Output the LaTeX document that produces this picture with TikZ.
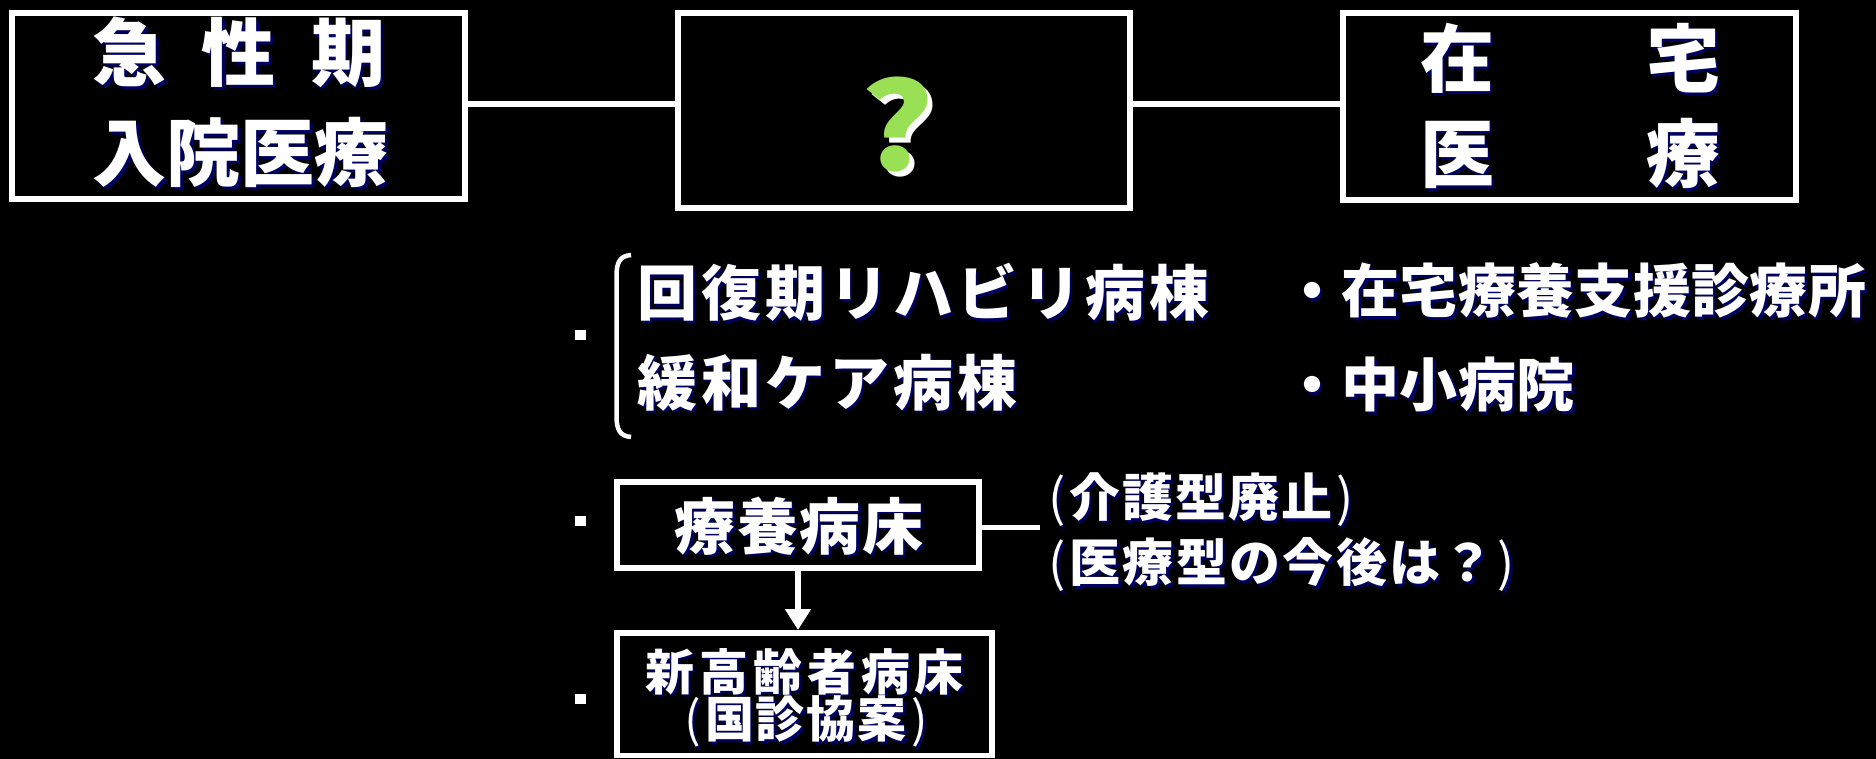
\documentclass[tikz,border=0pt]{standalone}
\usepackage{fontspec}
\setmainfont{Noto Sans CJK JP}
\usetikzlibrary{arrows.meta}
\definecolor{shadowc}{RGB}{0,0,96}
\definecolor{qgreen}{RGB}{153,224,85}
\makeatletter
\newcommand\pitched[2]{\def\pitchw{#1}\@tfor\pch:=#2\do{\makebox[\pitchw][c]{\pch}}}
\makeatother
\newcommand\lpar{{\mdseries(}\kern3pt}
\newcommand\rpar{\kern3pt{\mdseries)}}
\newcommand\sh[1]{\rlap{\kern2.5pt\raisebox{-2.5pt}{\color{shadowc}#1}}#1}
\tikzset{
  box/.style={draw=white, line width=5.5pt, inner sep=0pt},
  link/.style={draw=white, line width=6pt},
  txt/.style={inner sep=0pt, text=white, font=\bfseries},
  bulletsq/.style={fill=white, minimum width=11pt, minimum height=10pt, inner sep=0pt},
}
\begin{document}
\begin{tikzpicture}[x=1pt, y=-1pt]
\fill[black] (0,0) rectangle (1876,759);
\useasboundingbox (0,0) rectangle (1876,759);
\begin{scope}
\clip (0,0) rectangle (1876,759);
% top boxes
\node[box, minimum width=453pt, minimum height=186pt] (acute) at (238.5,106) {};
\node[box, minimum width=452pt, minimum height=195pt] (mid) at (904,110.5) {};
\node[box, minimum width=453pt, minimum height=187pt] (home) at (1569.5,106.5) {};
\coordinate (lineY) at (0,104);
\draw[link] (acute.east |- lineY) -- (mid.west |- lineY);
\draw[link] (mid.east |- lineY) -- (home.west |- lineY);
\node[txt, align=center, font=\bfseries\fontsize{74}{100}\selectfont] (acuteT) at (239,103.5) {\sh{\makebox[293pt][s]{急\hfill 性\hfill 期}}\\\sh{\makebox[293pt][s]{入\hfill 院\hfill 医\hfill 療}}};
\node[txt, align=center, font=\bfseries\fontsize{74}{95}\selectfont] (homeT) at (1570,107.5) {\sh{\makebox[300pt][s]{在\hfill 宅}}\\\sh{\makebox[300pt][s]{医\hfill 療}}};
\node[txt, font=\bfseries\fontsize{120}{120}\selectfont] (q) at (897,127) {\rlap{\hspace{5pt}\raisebox{-5pt}{\color{white}\scalebox{1.15}[1]{?}}}\color{qgreen}\scalebox{1.15}[1]{?}};
% bracket and bullets
\draw[white, line width=4.5pt] (631,255) .. controls (620,256) and (616.5,262) .. (616.5,276) -- (616.5,416) .. controls (616.5,430) and (620,436) .. (631,437);
\node[bulletsq] (b1) at (580,335) {};
\node[bulletsq] (b2) at (580,521) {};
\node[bulletsq] (b3) at (580,699) {};
\node[txt, anchor=west, font=\bfseries\fontsize{60}{60}\selectfont] (kaifuku) at (635,294) {\sh{\pitched{64pt}{回復期リハビリ病棟}}};
\node[txt, anchor=west, font=\bfseries\fontsize{60}{60}\selectfont] (kanwa) at (635,384) {\sh{\pitched{64pt}{緩和ケア病棟}}};
\node[txt, anchor=west, font=\bfseries\fontsize{58}{58}\selectfont] (zaitaku) at (1283,292) {\sh{\pitched{58.3pt}{・在宅療養支援診療所}}};
\node[txt, anchor=west, font=\bfseries\fontsize{58}{58}\selectfont] (chusho) at (1283,386) {\sh{\pitched{58.3pt}{・中小病院}}};
% ryoyo box
\node[box, minimum width=362pt, minimum height=86pt] (ryo) at (798,525) {};
\node[txt, font=\bfseries\fontsize{61}{61}\selectfont] (ryoT) at (799,527) {\sh{\pitched{62.5pt}{療養病床}}};
\coordinate (noteL) at (1040,527);
\draw[white, line width=5pt] (ryo.east |- noteL) -- (noteL);
\node[txt, anchor=west, font=\bfseries\fontsize{51}{51}\selectfont] (note1) at (1048,501) {\sh{\lpar\pitched{53pt}{介護型廃止}\rpar}};
\node[txt, anchor=west, font=\bfseries\fontsize{51}{51}\selectfont] (note2) at (1048,566) {\sh{\lpar\pitched{53.3pt}{医療型の今後は？}\rpar}};
% new box
\node[box, minimum width=375pt, minimum height=122.5pt] (new) at (804.5,694) {};
\draw[white, line width=6.5pt, -{Triangle[width=25pt,length=21pt]}] (ryo.south) -- (ryo.south |- new.north);
\node[txt, font=\bfseries\fontsize{49}{49}\selectfont] (newT1) at (804.5,673) {\sh{\pitched{54pt}{新高齢者病床}}};
\node[txt, font=\bfseries\fontsize{49}{49}\selectfont] (newT2) at (806,723) {\sh{\lpar\pitched{51pt}{国診協案}\rpar}};
\end{scope}
\end{tikzpicture}
\end{document}
